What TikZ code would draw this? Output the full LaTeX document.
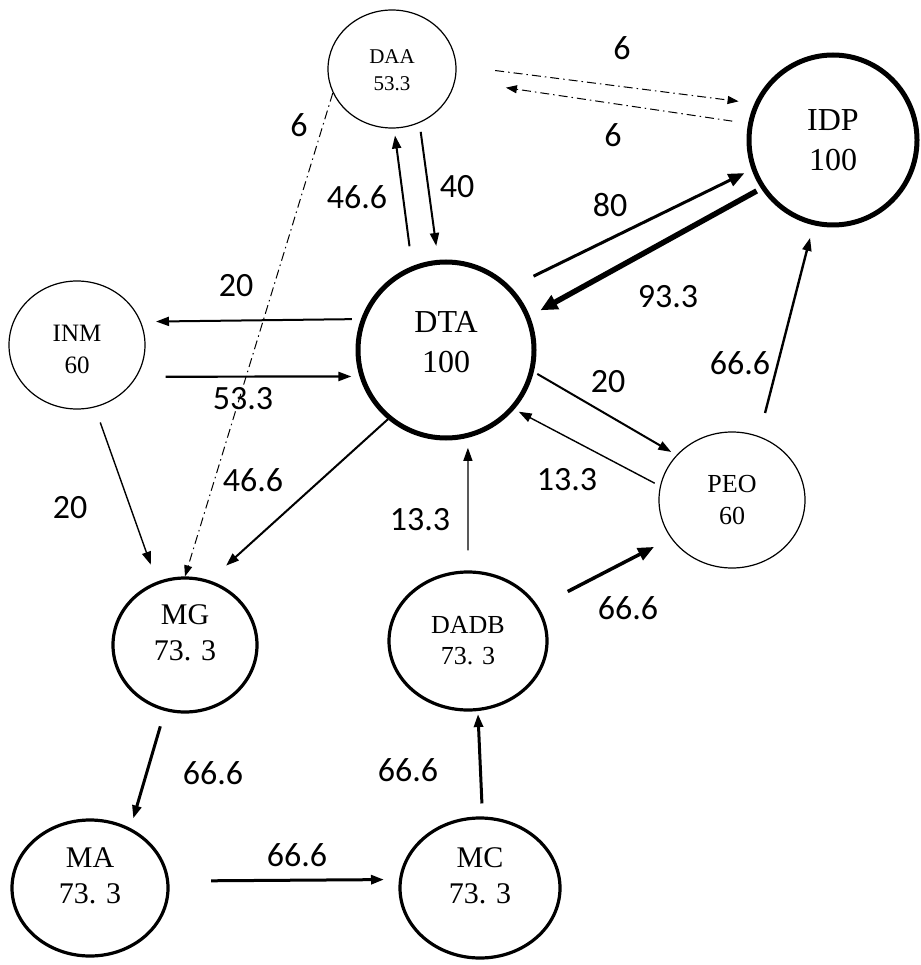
\documentclass[tikz,border=0pt]{standalone}
\usepackage{fontspec}
\setmainfont{Liberation Serif}
\newfontfamily\labfont{Carlito}
\usetikzlibrary{arrows.meta,shapes.geometric}
\newcommand\ntx[4]{\raisebox{#4pt}[0pt][0pt]{\fontsize{#1}{#2}\selectfont\begin{tabular}{@{}c@{}}#3\end{tabular}}}
\begin{document}
\begin{tikzpicture}[x=1pt,y=-1pt,
 cnode/.style={ellipse,draw,inner sep=0pt},
 lwthin/.style={cnode,line width=1.2pt},
 lwmid/.style={cnode,line width=3.2pt},
 lwthick/.style={cnode,line width=5pt},
 arr/.style={-{Triangle[length=13pt,width=9pt]}},
 bigarr/.style={-{Triangle[length=16pt,width=13pt]}},
 dd/.style={dash pattern=on 9pt off 4pt on 1.5pt off 4pt, line width=1pt, -{Triangle[length=11pt,width=8pt]}},
 lbl/.style={font=\labfont\fontsize{34}{40}\selectfont, inner sep=0pt}]
\path[use as bounding box, fill=white] (0,0) rectangle (920,965);

% nodes
\node[lwthin, minimum width=128pt, minimum height=118pt] (DAA) at (392,69) {\ntx{21}{27}{DAA\\53.3}{-8}};
\node[lwthick, minimum width=168pt, minimum height=170pt] (IDP) at (833,140) {\ntx{32}{40}{IDP\\100}{-8.5}};
\node[lwthick, minimum width=176pt, minimum height=176pt] (DTA) at (446,350) {\ntx{32}{40}{DTA\\100}{-1}};
\node[lwthin, minimum width=136pt, minimum height=128pt] (INM) at (77,345) {\ntx{25}{32}{INM\\60}{-12}};
\node[lwthin, minimum width=146pt, minimum height=136pt] (PEO) at (732,500) {\ntx{26}{32}{PEO\\60}{-8.5}};
\node[lwmid, minimum width=144pt, minimum height=134pt] (MG) at (185,645) {\ntx{30}{36}{MG\\73. 3}{3}};
\node[lwmid, minimum width=158pt, minimum height=138pt] (DADB) at (468,641) {\ntx{26}{31}{DADB\\73. 3}{-8.5}};
\node[lwmid, minimum width=156pt, minimum height=136pt] (MA) at (90,888) {\ntx{30}{36}{MA\\73. 3}{3}};
\node[lwmid, minimum width=160pt, minimum height=140pt] (MC) at (480,888) {\ntx{30}{36}{MC\\73. 3}{3}};

% connectors
\draw[arr, line width=2pt, shorten <=20pt, shorten >=7pt] (DTA.112) -- (DAA.-88);
\draw[arr, line width=2pt, shorten <=9pt, shorten >=14pt] (DAA.-63) -- (DTA.95);
\draw[bigarr, line width=3pt, shorten <=25pt, shorten >=8pt] (DTA.44) -- (IDP.200.6);
\draw[-{Triangle[length=17pt,width=15pt]}, line width=5.5pt, shorten <=5pt, shorten >=12pt] (IDP.214.7) -- (DTA.22);
\draw[dd, shorten <=39pt, shorten >=16pt] (DAA.3) -- (IDP.155.7);
\draw[dd, shorten <=16pt, shorten >=51pt] (IDP.169.8) -- (DAA.-10.9);
\draw[dd] (DAA.202) -- (MG.90);
\draw[arr, line width=2pt, shorten <=9pt, shorten >=15pt] (DTA.160.8) -- (INM.20.9);
\draw[arr, line width=2.2pt, shorten <=29pt, shorten >=8pt] (INM.-28.5) -- (DTA.197.8);
\draw[arr, line width=1.4pt, shorten <=16pt, shorten >=18pt] (INM.-74.9) -- (MG.114.8);
\draw[arr, line width=2pt, shorten >=22pt] (DTA.230.1) -- (MG.69.4);
\draw[arr, line width=2pt, shorten <=4pt, shorten >=6pt] (DTA.-14.5) -- (PEO.141.3);
\draw[arr, line width=1.4pt, shorten <=6pt, shorten >=5pt] (PEO.169) -- (DTA.-41.6);
\draw[arr, line width=2.4pt, shorten <=24pt, shorten >=13pt] (PEO.67) -- (IDP.257.8);
\draw[arr, line width=1.2pt, shorten <=20pt, shorten >=10pt] (DADB.90) -- (DTA.-76);
\draw[bigarr, line width=3.5pt, shorten <=33pt, shorten >=19pt] (DADB.26.3) -- (PEO.-148.6);
\draw[arr, line width=3pt, shorten <=13pt, shorten >=3pt] (MC.88) -- (DADB.-82);
\draw[arr, line width=3pt, shorten <=16pt, shorten >=10pt] (MG.-107.4) -- (MA.56.5);
\draw[arr, line width=3pt, shorten <=42pt, shorten >=15pt] (MA.5.9) -- (MC.174.3);

% labels
\node[lbl] (L1) at (622,48) {6};
\node[lbl] (L2) at (613,135) {6};
\node[lbl] (L3) at (299,125) {6};
\node[lbl] (L4) at (357,197) {46.6};
\node[lbl] (L5) at (457,187) {40};
\node[lbl] (L6) at (610,205) {80};
\node[lbl] (L7) at (668,297) {93.3};
\node[lbl] (L8) at (236,286) {20};
\node[lbl] (L9) at (243,399) {53.3};
\node[lbl] (L10) at (608,382) {20};
\node[lbl] (L11) at (740,363) {66.6};
\node[lbl] (L12) at (567,480) {13.3};
\node[lbl] (L13) at (253,480) {46.6};
\node[lbl] (L14) at (70,508) {20};
\node[lbl] (L15) at (420,520) {13.3};
\node[lbl] (L16) at (628,608) {66.6};
\node[lbl] (L17) at (408,770) {66.6};
\node[lbl] (L18) at (213,773) {66.6};
\node[lbl] (L19) at (297,855) {66.6};
\end{tikzpicture}
\end{document}
